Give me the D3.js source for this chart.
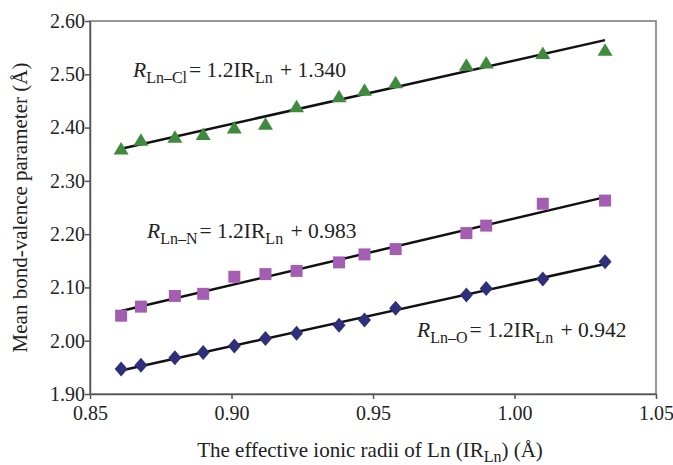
<!DOCTYPE html>
<html>
<head>
<meta charset="utf-8">
<script src="https://cdn.jsdelivr.net/npm/d3@7"></script>
<style>
  body { margin: 0; background: #fff; }
  text { font-family: "Liberation Serif", "Times New Roman", serif; fill: #222; }
</style>
</head>
<body>
<script>
(function(){

	//ionic radii of Ln (x values) shared by all three series
	var radii = [0.861, 0.868, 0.880, 0.890, 0.901, 0.912, 0.923, 0.938, 0.947, 0.958, 0.983, 0.990, 1.010, 1.032];

	//mean bond-valence parameters
	var clValues = [2.360, 2.376, 2.382, 2.387, 2.399, 2.406, 2.439, 2.458, 2.470, 2.484, 2.517, 2.521, 2.539, 2.545];
	var nValues  = [2.047, 2.064, 2.084, 2.088, 2.120, 2.125, 2.131, 2.147, 2.162, 2.172, 2.202, 2.216, 2.257, 2.263];
	var oValues  = [1.947, 1.954, 1.968, 1.978, 1.990, 2.004, 2.014, 2.029, 2.039, 2.061, 2.086, 2.098, 2.116, 2.148];

	//tick labels
	var xTicks = [0.85, 0.90, 0.95, 1.00, 1.05];
	var yTicks = [1.90, 2.00, 2.10, 2.20, 2.30, 2.40, 2.50, 2.60];

	var width = 673, height = 465;
	var margin = {left: 90, right: 17, top: 21, bottom: 71};

	var svg = d3.select("body").append("svg")
		.attr("width", width)
		.attr("height", height);

	var x = d3.scaleLinear().domain([0.85, 1.05]).range([margin.left, width - margin.right]);
	var y = d3.scaleLinear().domain([1.90, 2.60]).range([height - margin.bottom, margin.top]);

	//plot frame
	svg.append("rect")
		.attr("x", x(0.85)).attr("y", y(2.60))
		.attr("width", x(1.05) - x(0.85)).attr("height", y(1.90) - y(2.60))
		.attr("fill", "none").attr("stroke", "#777").attr("stroke-width", 1.5);

	//axes
	var xAxis = svg.append("g")
		.attr("transform", "translate(0," + y(1.90) + ")")
		.call(d3.axisBottom(x).tickValues(xTicks).tickFormat(d3.format(".2f")).tickSizeInner(5).tickSizeOuter(0));
	var yAxis = svg.append("g")
		.attr("transform", "translate(" + x(0.85) + ",0)")
		.call(d3.axisLeft(y).tickValues(yTicks).tickFormat(d3.format(".2f")).tickSizeInner(5).tickSizeOuter(0));

	[xAxis, yAxis].forEach(function(g){
		g.select(".domain").attr("stroke", "#555").attr("stroke-width", 1.5);
		g.selectAll(".tick line").attr("stroke", "#555").attr("stroke-width", 1.5);
		g.selectAll(".tick text")
			.style("font-family", "Liberation Serif, serif")
			.style("font-size", "20px")
			.attr("fill", "#333");
	});
	xAxis.selectAll(".tick text").attr("dy", "0.9em");
	yAxis.selectAll(".tick text").attr("x", -5);

	//least squares trendline like the spreadsheet one
	function fit(xs, ys){
		var mx = d3.mean(xs), my = d3.mean(ys);
		var sxy = d3.sum(xs, function(v, i){ return (v - mx) * (ys[i] - my); });
		var sxx = d3.sum(xs, function(v){ return (v - mx) * (v - mx); });
		var b = sxy / sxx;
		return function(v){ return my + b * (v - mx); };
	}

	//marker shapes, wider diamond than the d3 default
	var shapes = {
		triangle: "M0,-7L7.5,5.5L-7.5,5.5Z",
		square: "M-6,-6H6V6H-6Z",
		diamond: "M0,-7.5L6.5,0L0,7.5L-6.5,0Z"
	};

	var series = [
		{values: clValues, color: "#3f8a3f", shape: shapes.triangle},
		{values: nValues,  color: "#a45eb1", shape: shapes.square},
		{values: oValues,  color: "#2f2f7c", shape: shapes.diamond}
	];

	series.forEach(function(s){
		var f = fit(radii, s.values);
		var ext = d3.extent(radii);
		svg.append("line")
			.attr("x1", x(ext[0])).attr("y1", y(f(ext[0])))
			.attr("x2", x(ext[1])).attr("y2", y(f(ext[1])))
			.attr("stroke", "#111").attr("stroke-width", 2.5);

		svg.selectAll(null)
			.data(s.values)
			.enter()
			.append("path")
			.attr("d", s.shape)
			.attr("transform", function(d, i){ return "translate(" + x(radii[i]) + "," + y(d) + ")"; })
			.attr("fill", s.color);
	});

	//equation labels
	function equation(px, py, sub, c){
		var t = svg.append("text")
			.attr("x", px).attr("y", py)
			.style("font-size", "21.5px");
		t.append("tspan").style("font-style", "italic").text("R");
		t.append("tspan").attr("dy", 6).style("font-size", "16px").text("Ln\u2013" + sub);
		t.append("tspan").attr("dy", -6).attr("dx", 2).text("= 1.2IR");
		t.append("tspan").attr("dy", 6).style("font-size", "16px").text("Ln");
		t.append("tspan").attr("dy", -6).attr("dx", 2).text(" + " + c);
	}
	equation(133, 77, "Cl", "1.340");
	equation(147, 238, "N", "0.983");
	equation(417, 337, "O", "0.942");

	//axis titles
	var xt = svg.append("text")
		.attr("x", 370).attr("y", 457)
		.attr("text-anchor", "middle")
		.style("font-size", "21px");
	xt.append("tspan").text("The effective ionic radii of Ln (IR");
	xt.append("tspan").attr("dy", 5).style("font-size", "16px").text("Ln");
	xt.append("tspan").attr("dy", -5).text(") (\u00C5)");

	svg.append("text")
		.attr("transform", "translate(27," + ((y(1.90) + y(2.60)) / 2) + ") rotate(-90)")
		.attr("text-anchor", "middle")
		.style("font-size", "21px")
		.text("Mean bond-valence parameter (\u00C5)");

})();
</script>
</body>
</html>
